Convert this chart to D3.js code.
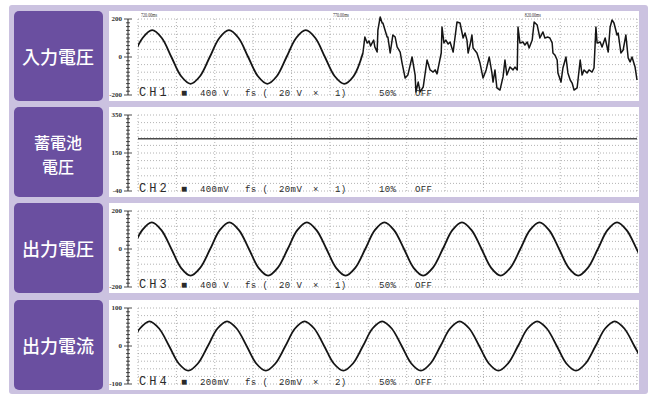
<!DOCTYPE html>
<html><head><meta charset="utf-8">
<script src="https://cdn.jsdelivr.net/npm/d3@7"></script>
<style>body{margin:0;background:#fff}</style>
</head><body>
<svg id="c" width="648" height="394"></svg>
<script>
// ---------- data ----------
const timeDomain = [720, 850];
const gridTimes = [720,730,740,750,760,770,780,790,800,810,820,830,840,850];
const timeMarks = [720, 770, 820];
const timeLabels = ["720.00ms", "770.00ms", "820.00ms"];

const panelLabels = [["入力電圧"], ["蓄電池", "電圧"], ["出力電圧"], ["出力電流"]];

const ch1Domain = [-200, 200];
const ch2Domain = [-40, 350];
const ch3Domain = [-200, 200];
const ch4Domain = [-100, 100];

const ch1TickLabels = [200, 0, -200];
const ch2TickLabels = [350, 150, -40];
const ch3TickLabels = [200, 0, -200];
const ch4TickLabels = [100, 0, -100];

const ch1Status = ["CH1", "■", "400 V", "fs (", "20 V", "×", "1)", "50%", "OFF"];
const ch2Status = ["CH2", "■", "400mV", "fs (", "20mV", "×", "1)", "10%", "OFF"];
const ch3Status = ["CH3", "■", "400 V", "fs (", "20 V", "×", "1)", "50%", "OFF"];
const ch4Status = ["CH4", "■", "200mV", "fs (", "20mV", "×", "2)", "50%", "OFF"];

// CH1: clean sine until ~778.6 ms, then distorted waveform
const ch1Sine = [[718.7,0],[721.2,100],[723.7,141],[726.2,100],[728.7,0],[731.2,-100],[733.7,-141],[736.2,-100],
  [738.7,0],[741.2,100],[743.7,141],[746.2,100],[748.7,0],[751.2,-100],[753.7,-141],[756.2,-100],
  [758.7,0],[761.2,100],[763.7,141],[766.2,100],[768.7,0],[771.2,-100],[773.7,-141],[776.2,-100],[778.6,21]];
const ch1Distorted = [[778.6,21],[779.1,105],[779.7,74],[780.2,84],[780.6,58],[781.0,74],[781.4,89],[781.7,53],[782.3,26],[782.5,142],
  [783.1,211],[783.6,179],[783.8,179],[784.9,105],[785.1,105],[785.7,21],[786.2,89],[786.4,116],[787.0,105],[787.5,53],
  [788.3,26],[788.8,-32],[789.6,-111],[790.3,-95],[791.4,0],[792.2,-95],[792.4,-184],[793.0,-132],[793.5,-184],[794.3,-158],
  [795.3,-16],[796.1,-68],[796.9,-79],[797.4,-68],[797.9,-89],[798.2,-58],[799.0,21],[799.2,158],[799.7,74],[800.2,89],
  [800.8,68],[801.3,79],[802.1,26],[803.1,184],[803.9,179],[804.7,100],[805.2,126],[805.7,89],[806.0,21],[806.5,63],
  [807.0,116],[807.3,47],[808.3,21],[809.1,-32],[809.9,-111],[810.7,-68],[811.5,0],[812.2,-84],[812.5,-132],[813.0,-68],
  [813.5,-163],[814.3,-174],[815.1,-105],[815.6,-16],[816.1,-95],[816.9,-53],[817.7,-68],[818.2,-53],[818.8,-68],[819.0,158],
  [819.5,74],[820.3,79],[820.8,63],[821.4,79],[821.9,47],[822.7,89],[823.2,184],[824.0,168],[824.7,100],[825.5,132],
  [826.0,100],[826.8,105],[827.3,100],[827.9,74],[828.1,21],[828.6,11],[829.2,-16],[829.4,-84],[830.2,-132],[830.7,-58],
  [831.5,0],[832.0,-84],[832.6,-121],[833.1,-137],[833.6,-174],[834.4,-163],[835.2,-16],[835.7,-95],[836.2,-68],[837.0,-84],
  [837.5,-68],[838.3,-79],[838.8,-58],[839.3,158],[839.6,74],[840.4,79],[840.9,53],[841.7,100],[842.5,26],[843.0,158],
  [843.5,195],[844.0,179],[844.8,116],[845.1,126],[845.8,21],[846.4,37],[847.1,116],[847.7,-5],[848.2,-26],[848.7,0],
  [849.5,-53],[850.0,-121]];

// CH2: flat battery voltage
const ch2Values = [[720,228],[760,228],[800,228],[850,228]];

// CH3: output voltage sine
const ch3Values = [[718.6,0],[721.1,99],[723.6,140],[726.1,99],[728.7,0],[731.2,-99],[733.7,-140],[736.2,-99],
  [738.8,0],[741.3,99],[743.8,140],[746.3,99],[748.9,0],[751.4,-99],[753.9,-140],[756.4,-99],
  [759.0,0],[761.5,99],[764.0,140],[766.5,99],[769.1,0],[771.6,-99],[774.1,-140],[776.6,-99],
  [779.2,0],[781.7,99],[784.2,140],[786.7,99],[789.3,0],[791.8,-99],[794.3,-140],[796.8,-99],
  [799.4,0],[801.9,99],[804.4,140],[806.9,99],[809.5,0],[812.0,-99],[814.5,-140],[817.0,-99],
  [819.6,0],[822.1,99],[824.6,140],[827.1,99],[829.7,0],[832.2,-99],[834.7,-140],[837.2,-99],
  [839.8,0],[842.3,99],[844.8,140],[847.3,99],[849.9,0],[852.4,-99]];

// CH4: output current sine
const ch4Values = [[718.0,0],[720.5,46],[723.0,65],[725.5,46],[728.1,0],[730.6,-46],[733.1,-65],[735.6,-46],
  [738.2,0],[740.7,46],[743.2,65],[745.7,46],[748.3,0],[750.8,-46],[753.3,-65],[755.8,-46],
  [758.4,0],[760.9,46],[763.4,65],[765.9,46],[768.5,0],[771.0,-46],[773.5,-65],[776.0,-46],
  [778.6,0],[781.1,46],[783.6,65],[786.1,46],[788.7,0],[791.2,-46],[793.7,-65],[796.2,-46],
  [798.8,0],[801.3,46],[803.8,65],[806.3,46],[808.9,0],[811.4,-46],[813.9,-65],[816.4,-46],
  [819.0,0],[821.5,46],[824.0,65],[826.5,46],[829.1,0],[831.6,-46],[834.1,-65],[836.6,-46],
  [839.2,0],[841.7,46],[844.2,65],[846.7,46],[849.3,0],[851.8,-46]];

// ---------- drawing ----------
const svg = d3.select("#c");
const C = { bg: "#cbc2e0", box: "#6a4fa0", ink: "#151515", grid: "#a0a0a0", text: "#2a2a2a" };

svg.append("rect").attr("x", 9).attr("y", 5).attr("width", 639).attr("height", 389).attr("rx", 3).attr("fill", C.bg);

const panelTops = [11, 107, 203, 300];
const panelH = 90;
const plotX0 = 138, plotX1 = 637;
const x = d3.scaleLinear().domain(timeDomain).range([plotX0, plotX1]);

const panels = [
  { domain: ch1Domain, ticks: ch1TickLabels, status: ch1Status, series: [{ d: ch1Sine, curve: d3.curveCatmullRom, w: 1.8 }, { d: ch1Distorted, curve: d3.curveLinear, w: 1.5 }], times: true },
  { domain: ch2Domain, ticks: ch2TickLabels, status: ch2Status, series: [{ d: ch2Values, curve: d3.curveLinear, w: 1.4, color: "#4a4a4a" }] },
  { domain: ch3Domain, ticks: ch3TickLabels, status: ch3Status, series: [{ d: ch3Values, curve: d3.curveCatmullRom, w: 1.8 }] },
  { domain: ch4Domain, ticks: ch4TickLabels, status: ch4Status, series: [{ d: ch4Values, curve: d3.curveCatmullRom, w: 1.8 }] }
];
const statusX = [139, 181, 200, 245, 279, 313, 335, 379, 415];

svg.append("defs").append("clipPath").attr("id", "plotclip")
  .append("rect").attr("x", plotX0).attr("y", 0).attr("width", plotX1 - plotX0 + 1).attr("height", 394);

panels.forEach((p, i) => {
  const top = panelTops[i];
  const yTop = top + 8, yBot = top + 84;
  const y = d3.scaleLinear().domain(p.domain).range([yBot, yTop]);
  const div = d3.scaleLinear().domain([0, 10]).range([yTop, yBot]);
  const g = svg.append("g");

  // purple label box
  g.append("rect").attr("x", 14).attr("y", top).attr("width", 89).attr("height", panelH).attr("rx", 5).attr("fill", C.box);
  const lines = panelLabels[i];
  const multi = lines.length > 1;
  const cy = top + panelH / 2 + (multi ? 2 : 0);
  lines.forEach((t, k) => {
    g.append("text").attr("x", 58).attr("y", cy + (k - (lines.length - 1) / 2) * 24)
      .attr("text-anchor", "middle").attr("dominant-baseline", "central")
      .attr("font-family", "'Noto Sans CJK JP', sans-serif").attr("font-weight", 500)
      .attr("font-size", multi ? 16 : 18).attr("fill", "#fff").text(t);
  });

  // white plot panel
  g.append("rect").attr("x", 109).attr("y", top).attr("width", 530).attr("height", panelH).attr("fill", "#fff");

  // grid
  g.append("g").selectAll("line.h").data(d3.range(0, 11)).join("line")
    .attr("x1", plotX0).attr("x2", plotX1).attr("y1", d => div(d)).attr("y2", d => div(d))
    .attr("stroke", C.grid).attr("stroke-width", 0.8).attr("stroke-dasharray", "1 2");
  g.append("g").selectAll("line.v").data(gridTimes).join("line")
    .attr("x1", d => x(d)).attr("x2", d => x(d)).attr("y1", yTop).attr("y2", yBot)
    .attr("stroke", C.grid).attr("stroke-width", 0.8).attr("stroke-dasharray", "1 2");

  // left axis with fine ticks
  const ax = 128;
  g.append("line").attr("x1", ax).attr("x2", ax).attr("y1", yTop).attr("y2", yBot).attr("stroke", "#222").attr("stroke-width", 1);
  const fine = d3.scaleLinear().domain([0, 20]).range([yTop, yBot]);
  g.append("g").selectAll("line").data(d3.range(0, 21)).join("line")
    .attr("x1", d => d % 10 === 0 ? ax - 4 : ax - 2).attr("x2", d => d % 10 === 0 ? ax + 4 : ax + 2)
    .attr("y1", d => fine(d)).attr("y2", d => fine(d)).attr("stroke", "#222").attr("stroke-width", 0.8);
  const tickY = [yTop, (yTop + yBot) / 2, yBot];
  p.ticks.forEach((t, k) => {
    g.append("text").attr("x", 122).attr("y", tickY[k]).attr("text-anchor", "end").attr("dominant-baseline", "central")
      .attr("font-family", "'Liberation Serif', serif").attr("font-weight", "bold").attr("font-size", 7)
      .attr("fill", "#333").text(t);
  });

  // waveforms
  p.series.forEach(s => {
    const line = d3.line().x(d => x(d[0])).y(d => y(d[1])).curve(s.curve);
    g.append("path").attr("d", line(s.d)).attr("fill", "none").attr("stroke", s.color || C.ink)
      .attr("stroke-width", s.w).attr("stroke-linejoin", "round").attr("clip-path", "url(#plotclip)");
  });

  // time labels
  if (p.times) {
    timeMarks.forEach((t, k) => {
      g.append("text").attr("x", x(t) + 3).attr("y", top + 6).attr("font-family", "'Liberation Serif', serif")
        .attr("font-size", 6).attr("fill", "#333").attr("textLength", 16).attr("lengthAdjust", "spacingAndGlyphs")
        .text(timeLabels[k]);
    });
  }

  // status line
  p.status.forEach((t, k) => {
    const big = k === 0;
    g.append("text").attr("x", statusX[k]).attr("y", yBot + 0.5)
      .attr("font-family", "'Liberation Mono', monospace")
      .attr("font-size", big ? 12 : (t === "■" ? 10 : 9))
      .attr("letter-spacing", big ? 3 : 0.4)
      .attr("fill", C.text).text(t);
  });
});
</script>
</body></html>
